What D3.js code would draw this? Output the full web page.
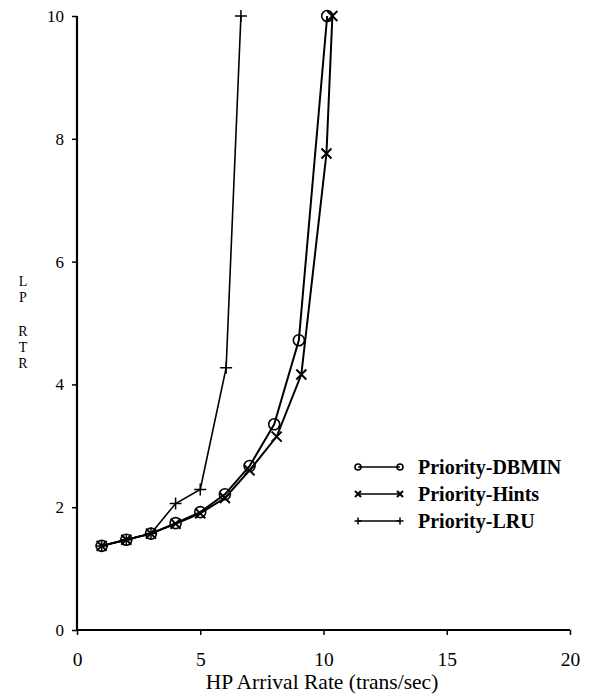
<!DOCTYPE html>
<html>
<head>
<meta charset="utf-8">
<script src="https://cdn.jsdelivr.net/npm/d3@7"></script>
<style>
  html, body { margin: 0; padding: 0; background: #fff; }
  svg { display: block; }
  text { font-family: "Liberation Serif", "Times New Roman", serif; fill: #000; }
</style>
</head>
<body>
<svg id="chart" width="595" height="698"></svg>
<script>
// HP arrival rate (trans/sec) and low-priority relative response time per policy
const dbminX = [1, 2, 3, 4, 5, 6, 7, 8, 9, 10.15];
const dbminY = [1.37, 1.47, 1.57, 1.74, 1.92, 2.21, 2.67, 3.35, 4.72, 10];
const hintsX = [1, 2, 3, 4, 5, 6, 7, 8.1, 9.1, 10.12, 10.36];
const hintsY = [1.37, 1.47, 1.57, 1.73, 1.9, 2.15, 2.6, 3.15, 4.16, 7.76, 10];
const lruX = [1, 2, 3, 4, 5, 6.05, 6.65];
const lruY = [1.37, 1.47, 1.57, 2.06, 2.29, 4.27, 10];

const seriesNames = ["Priority-DBMIN", "Priority-Hints", "Priority-LRU"];
const xTicks = [0, 5, 10, 15, 20];
const yTicks = [0, 2, 4, 6, 8, 10];
const xTitle = "HP Arrival Rate (trans/sec)";
const yTitleTop = ["L", "P"];
const yTitleBottom = ["R", "T", "R"];

const svg = d3.select("#chart");
const x = d3.scaleLinear().domain([0, 20]).range([77, 570]);
const y = d3.scaleLinear().domain([0, 10]).range([630, 16]);

// axes
const xAxis = svg.append("g").attr("transform", `translate(0,${y(0)})`)
  .call(d3.axisBottom(x).tickValues(xTicks).tickSize(5).tickPadding(17).tickFormat(d3.format("d")));
const yAxis = svg.append("g").attr("transform", `translate(${x(0)},0)`)
  .call(d3.axisLeft(y).tickValues(yTicks).tickSize(5).tickPadding(8).tickFormat(d3.format("d")));
[xAxis, yAxis].forEach(g => {
  g.select(".domain").attr("stroke", "#000").attr("stroke-width", 2.2);
  g.selectAll(".tick line").attr("stroke", "#000").attr("stroke-width", 1.5);
  g.selectAll(".tick text").style("font-family", "'Liberation Serif', serif");
});
xAxis.selectAll(".tick text").style("font-size", "19.5px");
yAxis.selectAll(".tick text").style("font-size", "17px");
// plain axis lines without the end caps
xAxis.select(".domain").attr("d", `M${x(0)},0H${x(20)}`);
yAxis.select(".domain").attr("d", `M0,${y(0)}V${y(10)}`);

// axis titles
svg.append("text").attr("x", 322).attr("y", 689).attr("text-anchor", "middle")
  .style("font-size", "21.5px").text(xTitle);
// vertical title, one letter per line
function stackedTitle(letters, top) {
  const t = svg.append("text").attr("text-anchor", "middle").style("font-size", "14px");
  letters.forEach((c, i) => t.append("tspan").attr("x", 23)
    .attr("y", top + i * 16).text(c));
}
stackedTitle(yTitleTop, 286);
stackedTitle(yTitleBottom, 336);

const line = d3.line().x(d => x(d[0])).y(d => y(d[1]));
const zip = (a, b) => a.map((v, i) => [v, b[i]]);

// marker drawers
function circleMark(g, cx, cy, r) {
  g.append("circle").attr("cx", cx).attr("cy", cy).attr("r", r)
    .attr("fill", "none").attr("stroke", "#000").attr("stroke-width", 1.6);
}
function crossMark(g, cx, cy, s) {
  g.append("path").attr("d", `M${cx - s},${cy - s}L${cx + s},${cy + s}M${cx - s},${cy + s}L${cx + s},${cy - s}`)
    .attr("stroke", "#000").attr("stroke-width", 2).attr("fill", "none");
}
function plusMark(g, cx, cy, s) {
  g.append("path").attr("d", `M${cx - s},${cy}H${cx + s}M${cx},${cy - s}V${cy + s}`)
    .attr("stroke", "#000").attr("stroke-width", 1.5).attr("fill", "none");
}

const series = [
  { xs: lruX, ys: lruY, width: 1.6, mark: (g, a, b) => plusMark(g, a, b, 6) },
  { xs: hintsX, ys: hintsY, width: 2, mark: (g, a, b) => crossMark(g, a, b, 5) },
  { xs: dbminX, ys: dbminY, width: 2, mark: (g, a, b) => circleMark(g, a, b, 5.5) }
];
series.forEach(s => {
  const pts = zip(s.xs, s.ys);
  svg.append("path").datum(pts).attr("d", line)
    .attr("fill", "none").attr("stroke", "#000").attr("stroke-width", s.width);
  const g = svg.append("g");
  pts.forEach(p => s.mark(g, x(p[0]), y(p[1])));
});

// legend
const legendMarks = [
  (g, a, b) => circleMark(g, a, b, 3),
  (g, a, b) => crossMark(g, a, b, 3),
  (g, a, b) => plusMark(g, a, b, 3.5)
];
seriesNames.forEach((name, i) => {
  const ly = 467 + i * 27;
  const g = svg.append("g");
  g.append("line").attr("x1", 358).attr("x2", 400).attr("y1", ly).attr("y2", ly)
    .attr("stroke", "#000").attr("stroke-width", 1.4);
  legendMarks[i](g, 358, ly);
  legendMarks[i](g, 400, ly);
  g.append("text").attr("x", 418).attr("y", ly + 7)
    .style("font-size", "20px").style("font-weight", "bold").text(name);
});
</script>
</body>
</html>
